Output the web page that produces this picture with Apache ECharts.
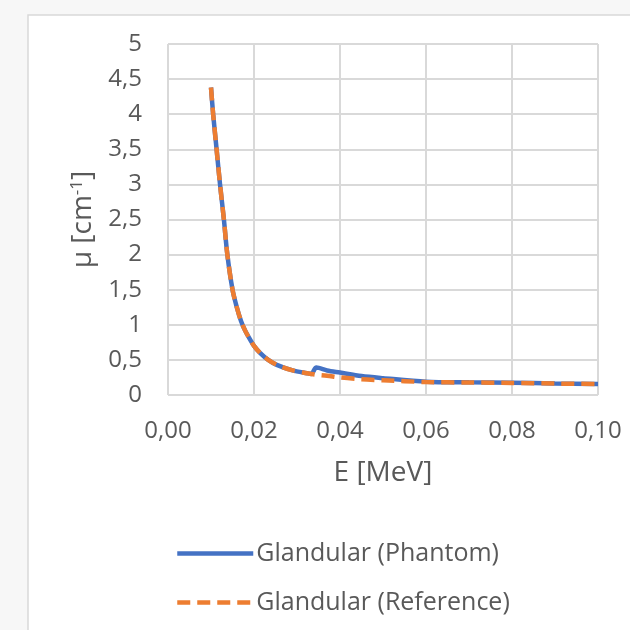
<html>
<head>
    <title></title>
    <script src="https://cdn.jsdelivr.net/npm/echarts@6/dist/echarts.min.js" type="text/javascript"></script>
</head>
<body style="margin:0;background:#f7f7f7;">
    <div id="chartDiv" style="width:630px;height:630px;"></div>
</body>
<script type="text/javascript" charset="utf-8">
        // energy in MeV, mu in cm^-1
        var energy = [0.0100, 0.0105, 0.0113, 0.0121, 0.0130, 0.0138, 0.0150, 0.0160, 0.0170, 0.0180,
                      0.0190, 0.0200, 0.0214, 0.0233, 0.0253, 0.0290, 0.0323, 0.0333, 0.0345, 0.0370,
                      0.0400, 0.0450, 0.0500, 0.0600, 0.0700, 0.0800, 0.0900, 0.1000];
        var phantom = [4.38, 4.00, 3.50, 3.00, 2.50, 2.00, 1.50, 1.25, 1.05, 0.91,
                       0.80, 0.70, 0.60, 0.50, 0.43, 0.35, 0.31, 0.30, 0.39, 0.35,
                       0.32, 0.27, 0.24, 0.19, 0.18, 0.175, 0.165, 0.157];
        var reference = [4.38, 4.00, 3.50, 3.00, 2.50, 2.00, 1.50, 1.25, 1.05, 0.91,
                         0.80, 0.70, 0.60, 0.50, 0.43, 0.35, 0.31, 0.30, 0.29, 0.275,
                         0.25, 0.225, 0.21, 0.185, 0.178, 0.172, 0.163, 0.157];
        var seriesNames = ['Glandular (Phantom)', 'Glandular (Reference)'];

        function pairs(ys){
            var out = [];
            for(var i=0;i<energy.length;i++){
                out.push([energy[i], ys[i]]);
            }
            return out;
        }
        function comma(v, d){
            return v.toFixed(d).replace('.', ',');
        }

        var chart = echarts.init(document.getElementById("chartDiv"));
        var font = 'Open Sans';
        var option = {
            backgroundColor: 'transparent',
            animation: false,
            graphic: [{
                type: 'rect',
                shape: {x: 28, y: 15, width: 620, height: 630},
                style: {fill: '#ffffff', stroke: '#d9d9d9', lineWidth: 1.5},
                z: -10
            }],
            grid: {left: 168, right: 32, top: 44, bottom: 235},
            legend: {
                orient: 'vertical',
                left: 170,
                top: 536,
                itemWidth: 76,
                itemHeight: 14,
                itemGap: 24,
                itemStyle: {opacity: 0},
                lineStyle: {width: 4.5},
                textStyle: {fontFamily: font, fontSize: 25, color: '#595959', padding: [0, 0, 0, -2]},
                data: seriesNames
            },
            xAxis: {
                type: 'value',
                min: 0, max: 0.1, interval: 0.02,
                name: 'E [MeV]',
                nameLocation: 'middle',
                nameGap: 64,
                nameTextStyle: {fontFamily: font, fontSize: 28, color: '#595959'},
                axisLine: {show: false},
                axisTick: {show: false},
                axisLabel: {margin: 24, fontFamily: font, fontSize: 24, color: '#595959',
                    formatter: function(v){ return comma(v, 2); }},
                splitLine: {show: true, lineStyle: {color: '#d9d9d9', width: 2}}
            },
            yAxis: {
                type: 'value',
                min: 0, max: 5, interval: 0.5,
                name: '{a|μ [cm}{s|-1}{a|]}',
                nameLocation: 'middle',
                nameGap: 70,
                nameTextStyle: {
                    rich: {
                        a: {fontFamily: font, fontSize: 28, color: '#595959'},
                        s: {fontFamily: font, fontSize: 17, color: '#595959', verticalAlign: 'top', padding: [0, 0, 12, 0]}
                    }
                },
                axisLine: {show: false},
                axisTick: {show: false},
                axisLabel: {margin: 26, fontFamily: font, fontSize: 24, color: '#595959',
                    formatter: function(v){ return v === Math.round(v) ? String(v) : comma(v, 1); }},
                splitLine: {show: true, lineStyle: {color: '#d9d9d9', width: 2}}
            },
            series: [{
                name: seriesNames[0],
                type: 'line',
                data: pairs(phantom),
                smooth: 0.3,
                symbol: 'none',
                color: '#4472c4',
                lineStyle: {color: '#4472c4', width: 4.5},
                z: 2
            }, {
                name: seriesNames[1],
                type: 'line',
                data: pairs(reference),
                smooth: 0.3,
                symbol: 'none',
                color: '#ed7d31',
                lineStyle: {color: '#ed7d31', width: 4.5, type: [13, 7]},
                z: 3
            }]
        };
        chart.setOption(option);
</script>
</html>
